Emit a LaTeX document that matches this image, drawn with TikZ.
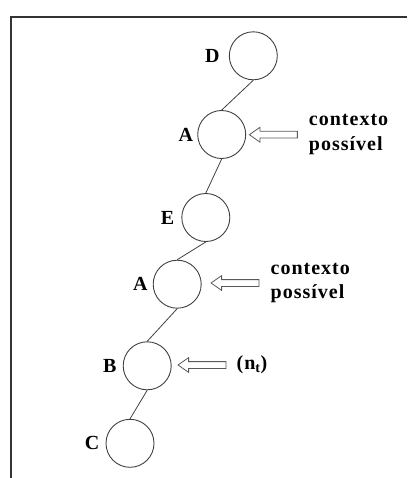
\documentclass[tikz,border=0pt]{standalone}
\usepackage{fontspec}
\setmainfont{Liberation Serif}
\newfontfamily\notefont[LetterSpace=5]{Liberation Serif}
\usetikzlibrary{positioning,shapes.arrows}
\begin{document}
\begin{tikzpicture}[x=1pt,y=-1pt,
  state/.style={circle,draw=black!75,line width=0.9pt,minimum size=48pt,inner sep=0pt},
  lab/.style={font=\bfseries\fontsize{20}{24}\selectfont,inner sep=0pt},
  hint/.style={single arrow,draw=black!65,line width=0.8pt,shape border rotate=180,
    minimum height=48pt,inner xsep=0pt,inner ysep=3pt,
    single arrow head extend=4pt,single arrow tip angle=70},
  txt/.style={font=\notefont\bfseries\fontsize{20}{24.5}\selectfont,align=left,inner sep=0pt},
  link/.style={draw=black!75,line width=0.8pt}]
 \useasboundingbox (0,0) rectangle (407,478);
 \draw[black!80,line width=1.2pt] (407,17) -- (11,17) -- (11,478);
 \node[state] (d) at (253.3,55.8) {};
 \node[state] (a1) at (221.7,134.5) {};
 \node[state] (e) at (205.8,217.5) {};
 \node[state] (a2) at (177.2,284.2) {};
 \node[state] (b) at (147.2,365.8) {};
 \node[state] (c) at (130,443.3) {};
 \node[lab,left=9pt of d] (ld) {D};
 \node[lab,left=4pt of a1] (la1) {A};
 \node[lab,left=7pt of e] (le) {E};
 \node[lab,left=5pt of a2] (la2) {A};
 \node[lab,left=6pt of b] (lb) {B};
 \node[lab,left=6pt of c] (lc) {C};
 \draw[link] (d.south) -- (a1.north);
 \draw[link] (a1.south) -- (e.north);
 \draw[link] (e.south) -- (a2.north);
 \draw[link] (a2.south) -- (b.north);
 \draw[link] (b.south) -- (c.north);
 \node[hint] (ar1) at (275.8,134.7) {};
 \node[hint] (ar2) at (237.5,283) {};
 \node[hint] (ar3) at (204.5,365) {};
 \node[txt,right=11pt of ar1.tail] (t1) {contexto\\possível};
 \node[txt,right=11pt of ar2.tail] (t2) {contexto\\possível};
 \node[txt,right=10pt of ar3.tail] (t3) {(n\textsubscript{t})};
\end{tikzpicture}
\end{document}
